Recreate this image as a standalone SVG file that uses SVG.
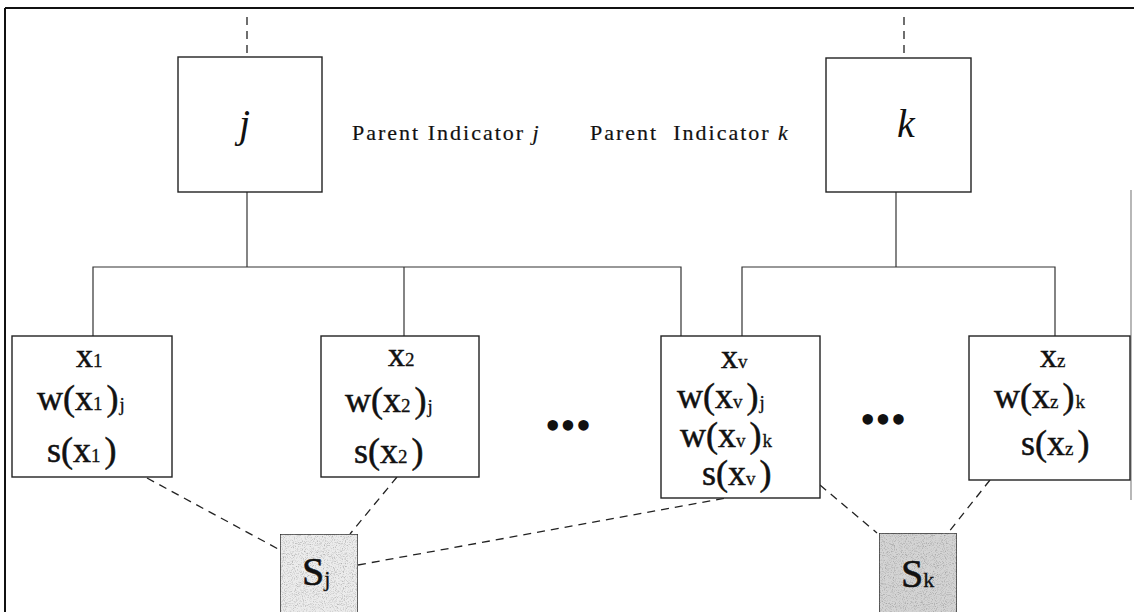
<svg xmlns="http://www.w3.org/2000/svg" width="1134" height="612" viewBox="0 0 1134 612">
  <style>
    .box { fill: #fff; stroke: #222; stroke-width: 1.4; }
    .wire { fill: none; stroke: #333; stroke-width: 1.2; }
    .dash { fill: none; stroke: #222; stroke-width: 1.3; stroke-dasharray: 8 6; }
    .frame { fill: none; stroke: #111; stroke-width: 2; }
    text { font-family: "Liberation Serif", "Times New Roman", serif; fill: #111; }
    .lbl { font-size: 36px; stroke: #111; stroke-width: 0.5; }
    .top { font-size: 34px; stroke: #111; stroke-width: 0.5; }
    .sub { font-size: 19px; stroke-width: 0.3; }
    .cap { font-size: 22px; letter-spacing: 2px; stroke: #111; stroke-width: 0.2; }
    .it { font-style: italic; }
    .big { font-size: 40px; }
    .sv { font-size: 40px; stroke: #111; stroke-width: 0.6; }
    .dots { font-size: 44px; }
  </style>
  <defs>
    <filter id="grain" x="0" y="0" width="100%" height="100%">
      <feTurbulence type="fractalNoise" baseFrequency="1.1" numOctaves="2" seed="7" result="n"/>
      <feColorMatrix in="n" type="matrix" values="0 0 0 0 0.2  0 0 0 0 0.2  0 0 0 0 0.2  0 0 0 -1.6 0.85" result="dots"/>
      <feComposite in="dots" in2="SourceGraphic" operator="in" result="speck"/>
      <feMerge><feMergeNode in="SourceGraphic"/><feMergeNode in="speck"/></feMerge>
    </filter>
  </defs>

  <rect width="1134" height="612" fill="#fff"/>

  <!-- outer frame -->
  <g id="frame">
    <line class="frame" x1="5" y1="8" x2="1134" y2="8"/>
    <line class="frame" x1="5" y1="8" x2="5" y2="612"/>
    <line x1="1131" y1="190" x2="1131" y2="500" stroke="#888" stroke-width="1.2"/>
  </g>

  <!-- connectors -->
  <g id="connectors">
    <line class="dash" x1="247" y1="17" x2="247" y2="57" stroke-dasharray="7 6"/>
    <line class="dash" x1="904" y1="17" x2="904" y2="57" stroke-dasharray="7 6"/>
    <polyline class="wire" points="247,192 247,267"/>
    <polyline class="wire" points="93,336 93,267 681,267 681,336"/>
    <line class="wire" x1="404" y1="267" x2="404" y2="336"/>
    <polyline class="wire" points="896,192 896,267"/>
    <polyline class="wire" points="742,336 742,267 1055,267 1055,336"/>
    <line class="dash" x1="147" y1="478" x2="280" y2="550"/>
    <line class="dash" x1="397" y1="477" x2="350" y2="534"/>
    <line class="dash" x1="358" y1="565" x2="726" y2="498"/>
    <line class="dash" x1="820" y1="485" x2="877" y2="533"/>
    <line class="dash" x1="990" y1="480" x2="948" y2="533"/>
  </g>

  <!-- parent indicators -->
  <g id="node-j">
    <rect class="box" x="178" y="57" width="144" height="135"/>
    <text class="big it" x="239" y="137">j</text>
  </g>
  <g id="node-k">
    <rect class="box" x="826" y="58" width="145" height="134"/>
    <text class="big it" x="897" y="137">k</text>
  </g>
  <g id="labels">
    <text class="cap" x="352" y="140">Parent Indicator <tspan class="it">j</tspan></text>
    <text class="cap" x="590" y="140" letter-spacing="2.2" xml:space="preserve">Parent  Indicator <tspan class="it">k</tspan></text>
  </g>

  <!-- indicator x1 -->
  <g id="node-x1">
    <rect class="box" x="12" y="336" width="160" height="141"/>
    <text class="top" x="76" y="367">x<tspan class="sub">1</tspan></text>
    <text class="lbl" x="37" y="410">w(x<tspan class="sub">1</tspan><tspan dx="4">)</tspan><tspan class="sub" dx="1" dy="1">j</tspan></text>
    <text class="lbl" x="47" y="462">s(x<tspan class="sub">1</tspan><tspan dx="4">)</tspan></text>
  </g>

  <!-- indicator x2 -->
  <g id="node-x2">
    <rect class="box" x="321" y="336" width="158" height="141"/>
    <text class="top" x="388" y="366">x<tspan class="sub">2</tspan></text>
    <text class="lbl" x="345" y="412">w(x<tspan class="sub">2</tspan><tspan dx="4">)</tspan><tspan class="sub" dx="1" dy="1">j</tspan></text>
    <text class="lbl" x="354" y="463">s(x<tspan class="sub">2</tspan><tspan dx="4">)</tspan></text>
  </g>

  <text id="ellipsis-1" class="dots" x="568" y="440" text-anchor="middle">•••</text>

  <!-- indicator xv (shared by j and k) -->
  <g id="node-xv">
    <rect class="box" x="661" y="336" width="159" height="162"/>
    <text class="top" x="721" y="368">x<tspan class="sub">v</tspan></text>
    <text class="lbl" x="677" y="408">w(x<tspan class="sub">v</tspan><tspan dx="4">)</tspan><tspan class="sub" dx="1" dy="1">j</tspan></text>
    <text class="lbl" x="680" y="447">w(x<tspan class="sub">v</tspan><tspan dx="4">)</tspan><tspan class="sub" dx="1">k</tspan></text>
    <text class="lbl" x="702" y="485">s(x<tspan class="sub">v</tspan><tspan dx="4">)</tspan></text>
  </g>

  <text id="ellipsis-2" class="dots" x="883" y="434" text-anchor="middle">•••</text>

  <!-- indicator xz -->
  <g id="node-xz">
    <rect class="box" x="969" y="336" width="161" height="144"/>
    <text class="top" x="1040" y="367">x<tspan class="sub">z</tspan></text>
    <text class="lbl" x="994" y="408">w(x<tspan class="sub">z</tspan><tspan dx="4">)</tspan><tspan class="sub" dx="1">k</tspan></text>
    <text class="lbl" x="1021" y="455">s(x<tspan class="sub">z</tspan><tspan dx="4">)</tspan></text>
  </g>

  <!-- aggregate scores -->
  <g id="node-sj">
    <rect x="280" y="534" width="78" height="80" fill="#ececec" stroke="#222" stroke-width="1.4" filter="url(#grain)"/>
    <text class="sv" x="302" y="585">S<tspan font-size="22px" stroke-width="0.3" dy="1">j</tspan></text>
  </g>
  <g id="node-sk">
    <rect x="879" y="533" width="78" height="80" fill="#d4d4d4" stroke="#222" stroke-width="1.4" filter="url(#grain)"/>
    <text class="sv" x="901" y="587">S<tspan font-size="22px" stroke-width="0.3">k</tspan></text>
  </g>
</svg>
